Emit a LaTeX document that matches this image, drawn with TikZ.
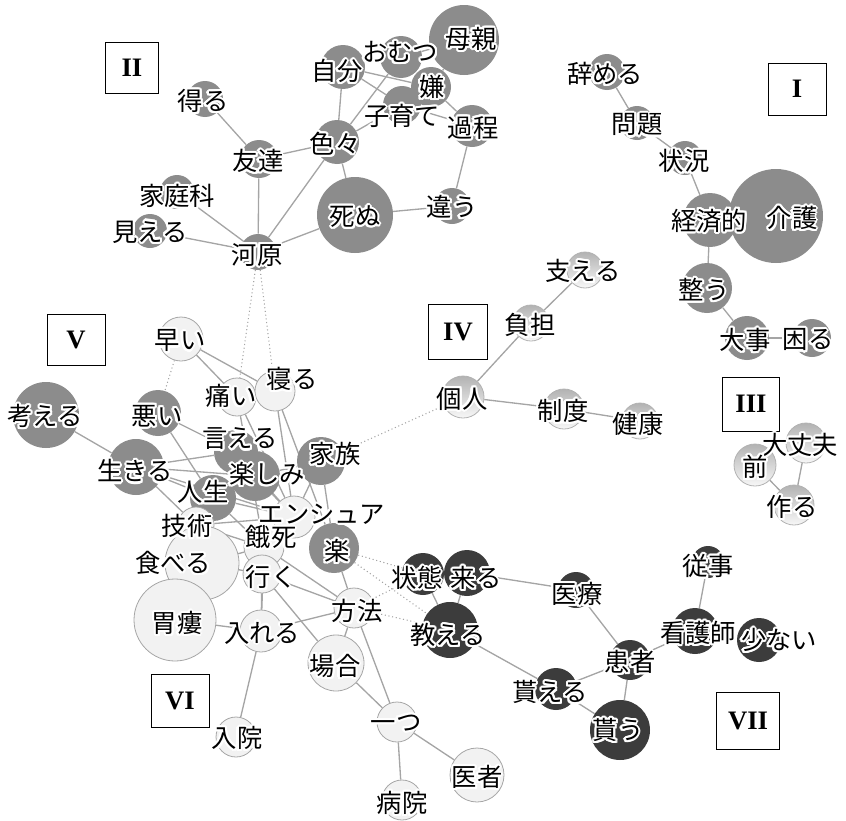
\documentclass[tikz,border=0pt]{standalone}
\usepackage{fontspec}
\newfontfamily\jp{Noto Sans CJK JP}
\newfontfamily\romain{Liberation Serif}
\usepackage[copies]{contour}
\contourlength{1.6pt}

\pgfdeclarelayer{fond}
\pgfdeclarelayer{texte}
\pgfsetlayers{fond,main,texte}

\definecolor{grisC}{RGB}{140,140,140}
\definecolor{noirC}{RGB}{60,60,60}
\definecolor{clairC}{RGB}{242,242,242}
\definecolor{lienC}{RGB}{165,165,165}

\tikzset{
  bulle/.style={circle, inner sep=0pt},
  gris/.style={bulle, fill=grisC},
  sombre/.style={bulle, fill=noirC},
  clair/.style={bulle, fill=clairC, draw=black!35, line width=0.6pt},
  pale/.style={bulle, draw=black!30, line width=0.6pt, top color=black!30, bottom color=black!3},
  mot/.style={font=\jp\fontsize{19}{19}\selectfont, inner sep=0pt},
  lien/.style={lienC, line width=1pt},
  pointille/.style={lienC, dotted, line width=0.8pt},
  cadre/.style={draw, line width=0.6pt, font=\romain\bfseries\fontsize{20}{20}\selectfont}
}

\begin{document}
\begin{tikzpicture}[x=0.75pt, y=-0.75pt]
    \useasboundingbox (0,0) rectangle (846,821);

    % Groupe I
    \foreach \n/\x/\y/\r/\tx/\ty/\t in {yameru/607/72/18/605/75/辞める, mondai/637/123/17/637/126/問題,
        jokyo/685/158/17/684/162/状況, keizai/710/220/27/709/222/経済的, kaigo/776/216/47/792/219/介護,
        totonou/707/288/25/704/291/整う, daiji/747/338/22/745/341/大事, komaru/812/338/19/808/341/困る}{
        \node[gris, minimum size=\r*1.5pt] (\n) at (\x,\y) {};
        \begin{pgfonlayer}{texte}
            \node[mot] (t-\n) at (\tx,\ty) {\contour{white}{\t}};
        \end{pgfonlayer}
    }

    % Groupe II
    \foreach \n/\x/\y/\r/\tx/\ty/\t in {hahaoya/464/40/35/471/40/母親, omutsu/401/57/21/400/53/おむつ,
        jibun/343/67/22/337/72/自分, iya/431/87/20/432/88/嫌, kosodate/402/105/19/402/117/子育て,
        katei/472/126/21/473/129/過程, iroiro/337/142/22/335/145/色々, eru/205/99/18/203/102/得る,
        tomodachi/259/159/19/258/162/友達, kateika/177/192/17/177/197/家庭科, mieru/150/231/17/150/233/見える,
        kawara/258/252/18/257/256/河原, shinu/355/215/38/355/218/死ぬ, chigau/452/206/18/452/208/違う}{
        \node[gris, minimum size=\r*1.5pt] (\n) at (\x,\y) {};
        \begin{pgfonlayer}{texte}
            \node[mot] (t-\n) at (\tx,\ty) {\contour{white}{\t}};
        \end{pgfonlayer}
    }

    % Groupe III
    \foreach \n/\x/\y/\r/\tx/\ty/\t in {daijobu/806/443/20/800/446/大丈夫, mae/755/465/21/755/468/前,
        tsukuru/794/505/20/792/508/作る}{
        \node[pale, minimum size=\r*1.5pt] (\n) at (\x,\y) {};
        \begin{pgfonlayer}{texte}
            \node[mot] (t-\n) at (\tx,\ty) {\contour{white}{\t}};
        \end{pgfonlayer}
    }

    % Groupe IV
    \foreach \n/\x/\y/\r/\tx/\ty/\t in {sasaeru/585/270/18/583/272/支える, futan/531/323/18/530/326/負担,
        kojin/463/397/21/462/400/個人, seido/564/409/20/563/412/制度, kenko/640/421/18/638/425/健康}{
        \node[pale, minimum size=\r*1.5pt] (\n) at (\x,\y) {};
        \begin{pgfonlayer}{texte}
            \node[mot] (t-\n) at (\tx,\ty) {\contour{white}{\t}};
        \end{pgfonlayer}
    }

    % Groupe V
    \foreach \n/\x/\y/\r/\tx/\ty/\t in {kangaeru/46/415/33/45/417/考える, warui/158/413/23/157/417/悪い,
        ikiru/136/467/28/135/472/生きる, jinsei/213/498/23/203/493/人生, ieru/236/452/22/240/440/言える,
        tanoshimi/255/476/25/267/475/楽しみ, kazoku/321/461/24/335/455/家族, raku/334/548/25/337/552/楽}{
        \node[gris, minimum size=\r*1.5pt] (\n) at (\x,\y) {};
        \begin{pgfonlayer}{texte}
            \node[mot] (t-\n) at (\tx,\ty) {\contour{white}{\t}};
        \end{pgfonlayer}
    }

    % Groupe VI
    \foreach \n/\x/\y/\r/\tx/\ty/\t in {hayai/181/339/22/180/342/早い, itai/237/397/19/231/397/痛い,
        neru/275/391/20/292/380/寝る, gijutsu/196/525/18/187/527/技術, ensure/294/517/21/322/515/エンシュア,
        gashi/264/547/20/271/538/餓死, iku/262/574/19/271/578/行く, taberu/202/563/37/173/564/食べる,
        irou/175/620/41/177/624/胃瘻, ireru/261/631/21/262/634/入れる, hoho/354/608/20/357/612/方法,
        baai/336/663/28/335/667/場合, hitotsu/397/722/20/396/724/一つ, isha/477/775/27/477/778/医者,
        byoin/402/800/20/402/804/病院, nyuin/236/737/20/237/739/入院}{
        \node[clair, minimum size=\r*1.5pt] (\n) at (\x,\y) {};
        \begin{pgfonlayer}{texte}
            \node[mot] (t-\n) at (\tx,\ty) {\contour{white}{\t}};
        \end{pgfonlayer}
    }

    % Groupe VII
    \foreach \n/\x/\y/\r/\tx/\ty/\t in {jotai/423/574/21/417/579/状態, kuru/467/573/23/476/579/来る,
        oshieru/450/630/28/448/636/教える, iryo/576/590/18/577/595/医療, juji/708/562/16/708/567/従事,
        kangoshi/695/631/23/698/634/看護師, sukunai/759/640/22/779/641/少ない, kanja/630/660/20/630/663/患者,
        moraeru/556/689/21/550/693/貰える, morau/620/730/30/618/731/貰う}{
        \node[sombre, minimum size=\r*1.5pt] (\n) at (\x,\y) {};
        \begin{pgfonlayer}{texte}
            \node[mot] (t-\n) at (\tx,\ty) {\contour{white}{\t}};
        \end{pgfonlayer}
    }

    % Liens
    \begin{pgfonlayer}{fond}
        \foreach \a/\b in {yameru/mondai, mondai/jokyo, jokyo/keizai, keizai/kaigo, keizai/totonou,
            totonou/daiji, daiji/komaru,
            eru/tomodachi, tomodachi/iroiro, tomodachi/kawara, iroiro/kawara, iroiro/jibun, iroiro/omutsu,
            iroiro/kosodate, iroiro/shinu, jibun/iya, jibun/kosodate, kosodate/katei, iya/katei,
            omutsu/hahaoya, iya/hahaoya, katei/chigau, chigau/shinu, shinu/kawara, kawara/kateika, kawara/mieru,
            mae/tsukuru, daijobu/tsukuru,
            sasaeru/futan, futan/kojin, kojin/seido, seido/kenko,
            kangaeru/ikiru, warui/ieru, warui/jinsei, ikiru/ieru, ikiru/tanoshimi, ikiru/jinsei,
            ikiru/ensure, ikiru/gijutsu, hayai/itai, hayai/neru, itai/ensure, itai/gashi, neru/ensure,
            neru/raku, kazoku/raku, kazoku/tanoshimi, kazoku/ensure, ieru/ensure, tanoshimi/ensure,
            jinsei/ensure, jinsei/gashi, gijutsu/gashi, gijutsu/ensure, taberu/gashi, taberu/iku,
            irou/ireru, iku/ireru, gashi/ireru, iku/hoho, iku/baai, gashi/hoho, raku/hoho, ireru/hoho,
            ireru/nyuin, hoho/baai, hoho/hitotsu, baai/hitotsu, hitotsu/isha, hitotsu/byoin,
            jotai/oshieru, kuru/oshieru, kuru/iryo, iryo/kanja, kanja/kangoshi, kangoshi/juji,
            kanja/moraeru, kanja/morau, moraeru/morau, oshieru/moraeru}
            \draw[lien] (\a) -- (\b);
        \foreach \a/\b in {kawara/itai, kawara/neru, hayai/warui, kojin/kazoku, raku/jotai,
            raku/oshieru, hoho/jotai, hoho/oshieru}
            \draw[pointille] (\a) -- (\b);
    \end{pgfonlayer}

    % Cadres
    \node[cadre, minimum width=53*0.75pt, minimum height=51*0.75pt] (c2) at (132,68) {II};
    \node[cadre, minimum width=58*0.75pt, minimum height=52*0.75pt] (c1) at (797,89) {I};
    \node[cadre, minimum width=58*0.75pt, minimum height=51*0.75pt] (c5) at (76,340) {V};
    \node[cadre, minimum width=59*0.75pt, minimum height=55*0.75pt] (c4) at (458,332) {IV};
    \node[cadre, minimum width=57*0.75pt, minimum height=54*0.75pt] (c3) at (751,404) {III};
    \node[cadre, minimum width=58*0.75pt, minimum height=53*0.75pt] (c6) at (180,701) {VI};
    \node[cadre, minimum width=63*0.75pt, minimum height=57*0.75pt] (c7) at (748,721) {VII};
\end{tikzpicture}
\end{document}
